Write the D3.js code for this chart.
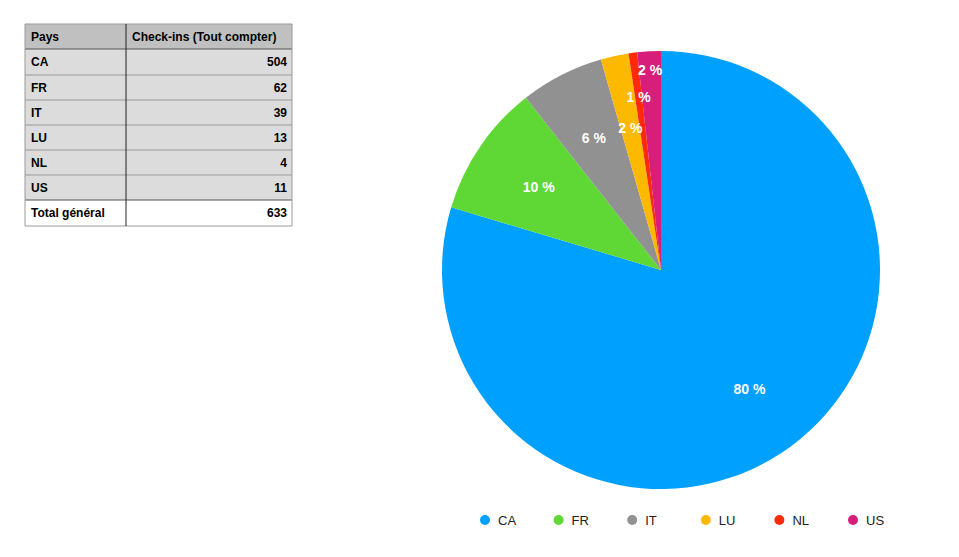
<!DOCTYPE html>
<html><head><meta charset="utf-8">
<script src="https://cdn.jsdelivr.net/npm/d3@7"></script>
<style>body{margin:0;background:#fff;}svg{display:block;}</style>
</head><body>
<svg id="chart" width="959" height="557"></svg>
<script>
"use strict";

const countries = ["CA", "FR", "IT", "LU", "NL", "US"];
const checkins = [504, 62, 39, 13, 4, 11];
const totalLabel = "Total général";
const headers = ["Pays", "Check-ins (Tout compter)"];
const colors = ["#00a0ff", "#5fd836", "#919191", "#fdb800", "#fe2a0b", "#d71e7a"];

const svg = d3.select("#chart");
const font = "Helvetica, 'Liberation Sans', Arial, sans-serif";

// table
const total = d3.sum(checkins);
const rows = [headers].concat(countries.map((c, i) => [c, String(checkins[i])]), [[totalLabel, String(total)]]);
const rowY = [24, 49, 75, 100, 125, 150, 175, 200, 226];
const x0 = 25, x1 = 126, x2 = 292;
const tbl = svg.append("g").style("font-family", font).style("font-size", "12px").style("font-weight", "bold");
rows.forEach((r, i) => {
  const fill = i === 0 ? "#c0c0c0" : i === rows.length - 1 ? "#fff" : "#dcdcdc";
  tbl.append("rect").attr("x", x0).attr("y", rowY[i]).attr("width", x2 - x0)
    .attr("height", rowY[i + 1] - rowY[i]).attr("fill", fill);
  const cy = (rowY[i] + rowY[i + 1]) / 2 + 4;
  tbl.append("text").attr("x", x0 + 6).attr("y", cy).text(r[0]);
  tbl.append("text").attr("x", i === 0 ? x1 + 6 : x2 - 5).attr("y", cy)
    .attr("text-anchor", i === 0 ? "start" : "end").text(r[1]);
});
rowY.forEach((y, i) => {
  tbl.append("line").attr("x1", x0).attr("x2", x2).attr("y1", y).attr("y2", y)
    .attr("stroke", i === 1 || i === rowY.length - 2 ? "#555" : "#999").attr("stroke-width", 1);
});
tbl.append("line").attr("x1", x0).attr("x2", x0).attr("y1", 24).attr("y2", 226).attr("stroke", "#999");
tbl.append("line").attr("x1", x2).attr("x2", x2).attr("y1", 24).attr("y2", 226).attr("stroke", "#999");
tbl.append("line").attr("x1", x1).attr("x2", x1).attr("y1", 24).attr("y2", 226).attr("stroke", "#222");

// pie
const cx = 661, cy = 270, r = 219;
// label distance from centre per slice (small slices pushed outward to avoid overlap)
const labelR = [148, 148, 148, 145, 174, 200];
const pie = d3.pie().sort(null).value(d => d)(checkins);
const arc = d3.arc().innerRadius(0).outerRadius(r);
const g = svg.append("g").attr("transform", `translate(${cx},${cy})`);
g.selectAll("path").data(pie).join("path")
  .attr("d", arc).attr("fill", (d, i) => colors[i]);
g.selectAll("text").data(pie).join("text")
  .attr("transform", (d, i) => `translate(${d3.arc().innerRadius(labelR[i]).outerRadius(labelR[i]).centroid(d)})`)
  .attr("text-anchor", "middle").attr("dy", "0.35em")
  .style("font-family", font).style("font-size", "14px").style("font-weight", "bold")
  .attr("fill", "#fff")
  .text(d => Math.round(d.value / total * 100) + " %");

// legend
const lx = d3.scalePoint().domain(countries).range([485, 853]);
const leg = svg.append("g").style("font-family", font).style("font-size", "13px");
countries.forEach((c, i) => {
  leg.append("circle").attr("cx", lx(c)).attr("cy", 520).attr("r", 5).attr("fill", colors[i]);
  leg.append("text").attr("x", lx(c) + 13).attr("y", 524.5).attr("fill", "#222").text(c);
});
</script>
</body></html>
